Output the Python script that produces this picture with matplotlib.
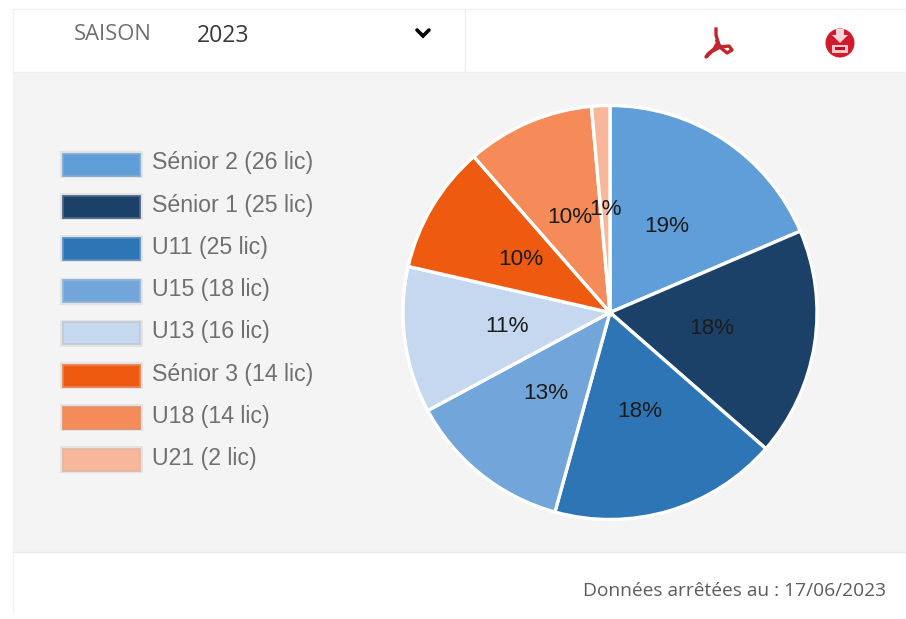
import matplotlib
matplotlib.use("Agg")
import matplotlib.pyplot as plt
from matplotlib.patches import Rectangle, Circle, Polygon

W, H = 906, 619

categories = ["Sénior 2", "Sénior 1", "U11", "U15", "U13", "Sénior 3", "U18", "U21"]
licences = [26, 25, 25, 18, 16, 14, 14, 2]
colors = ["#5f9ed8", "#1c4168", "#2e75b6", "#72a6da", "#c5d8ef", "#ee5a10", "#f48b58", "#f8b79a"]
edges = ["#7fa9d2", "#4a6585", "#5a8fc2", "#8fb2d6", "#c0cbd9", "#e88052", "#e0926c", "#e0b8a4"]

fig = plt.figure(figsize=(W / 100, H / 100), dpi=100, facecolor="white")

# page frame, pixel coords
bg = fig.add_axes([0, 0, 1, 1])
bg.set_xlim(0, W)
bg.set_ylim(H, 0)
bg.axis("off")
bg.add_patch(Rectangle((13, 72), W - 13, 480, fc="#f4f4f4", ec="none"))
bg.plot([13, W], [9, 9], color="#f0f0f0", lw=1)
bg.plot([13, 13], [9, 612], color="#f0f0f0", lw=1)
bg.plot([13, W], [72, 72], color="#eeeeee", lw=1)
bg.plot([13, W], [552, 552], color="#eaeaea", lw=1)
bg.plot([465, 465], [9, 72], color="#eeeeee", lw=1)

bg.text(74, 34.5, "SAISON", family="Open Sans", fontsize=15.8, color="#6f6f6f", va="center")
bg.text(197, 36.5, "2023", family="Open Sans", fontsize=16.6, color="#3a3a3a", va="center")
bg.plot([417, 423, 429], [30, 36, 30], color="black", lw=2.6, solid_capstyle="round", solid_joinstyle="miter")
bg.text(886, 590.5, "Données arrêtées au : 17/06/2023", family="Open Sans", fontsize=13.8,
        color="#5c5c5c", ha="right", va="center")

# pdf icon
bg.plot([716, 716, 718, 714, 708, 706, 711, 720, 729, 732, 727, 721, 717],
        [29, 35, 42, 49, 54, 57, 52, 47, 46, 50, 53, 48, 41], color="#c4262e", lw=2.4)

# download icon
bg.add_patch(Circle((840, 43), 14.5, fc="#cf1b2b", ec="none"))
bg.add_patch(Polygon([(836, 29), (844, 29), (844, 35), (848, 35), (840, 43), (832, 35), (836, 35)],
                     fc="#f7d6d8", ec="none"))
bg.add_patch(Rectangle((832, 45), 16, 8, fc="#f4c6ca", ec="none"))
bg.add_patch(Rectangle((835, 47), 10, 3, fc="#b8101e", ec="none"))

# legend
for i, (name, n, c, e) in enumerate(zip(categories, licences, colors, edges)):
    y = 164.5 + i * 42.2
    bg.add_patch(Rectangle((61, y - 12.5), 81, 25, fc="none", ec="#e3e0de", lw=1.2))
    bg.add_patch(Rectangle((63, y - 11), 77, 22, fc=c, ec=e, lw=1.3))
    bg.text(152, y - 1.5, f"{name} ({n} lic)", family="Liberation Sans", fontsize=16.7,
            color="#707070", va="center")

# pie
cx, cy, r = 610, 312.5, 207
ax = fig.add_axes([(cx - r) / W, 1 - (cy + r) / H, 2 * r / W, 2 * r / H])
wedges, texts, autotexts = ax.pie(
    licences, colors=colors, startangle=90, counterclock=False, radius=1,
    autopct=lambda p: f"{p:.0f}%", pctdistance=0.5,
    wedgeprops={"edgecolor": "white", "linewidth": 2.4},
    textprops={"family": "Liberation Sans", "fontsize": 16.2, "color": "#1c1c1c"},
)
ax.set_xlim(-1, 1)
ax.set_ylim(-1, 1)
for w in wedges:
    w.set_clip_on(False)

fig.savefig("out.png", dpi=100, facecolor="white")
